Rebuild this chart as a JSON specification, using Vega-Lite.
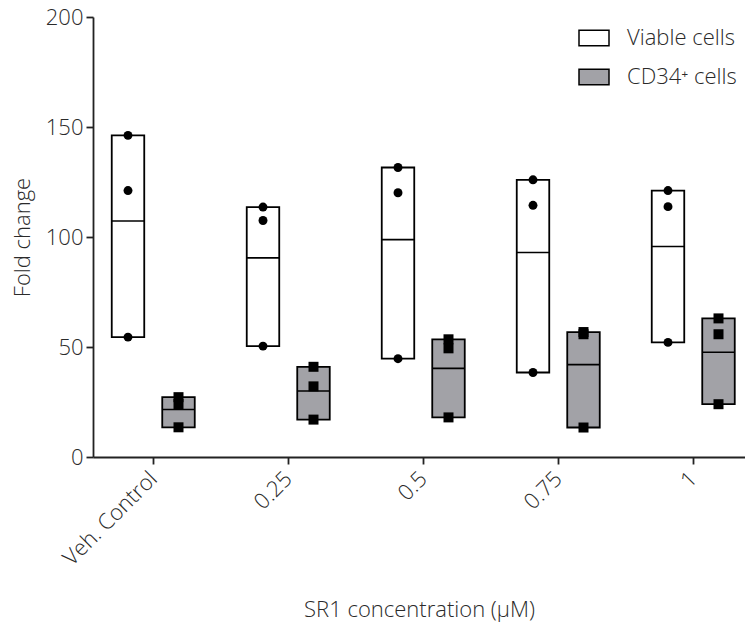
{
  "$schema": "https://vega.github.io/schema/vega-lite/v6.json",
  "autosize": "none",
  "padding": {"left": 93, "top": 17, "right": 0, "bottom": 170},
  "width": 652,
  "height": 440,
  "background": "white",
  "config": {
    "font": "Open Sans",
    "view": {"stroke": null},
    "axis": {"grid": false, "domainColor": "#222222", "domainWidth": 1.8, "tickColor": "#222222", "tickWidth": 1.8, "tickSize": 7, "labelColor": "#2a2a2a", "titleColor": "#2a2a2a", "labelFontSize": 22, "titleFontSize": 22, "titleFontWeight": 300, "labelFontWeight": 300, "labelFont": "Open Sans", "titleFont": "Open Sans"}
  },
  "data": {"values": [
    {"conc": "Veh. Control", "series": "Viable cells", "value": 146.2},
    {"conc": "Veh. Control", "series": "Viable cells", "value": 121.1},
    {"conc": "Veh. Control", "series": "Viable cells", "value": 54.5},
    {"conc": "Veh. Control", "series": "CD34⁺ cells", "value": 27.2},
    {"conc": "Veh. Control", "series": "CD34⁺ cells", "value": 24.1},
    {"conc": "Veh. Control", "series": "CD34⁺ cells", "value": 13.5},
    {"conc": "0.25", "series": "Viable cells", "value": 113.6},
    {"conc": "0.25", "series": "Viable cells", "value": 107.5},
    {"conc": "0.25", "series": "Viable cells", "value": 50.4},
    {"conc": "0.25", "series": "CD34⁺ cells", "value": 41.0},
    {"conc": "0.25", "series": "CD34⁺ cells", "value": 32.1},
    {"conc": "0.25", "series": "CD34⁺ cells", "value": 17.0},
    {"conc": "0.5", "series": "Viable cells", "value": 131.6},
    {"conc": "0.5", "series": "Viable cells", "value": 120.1},
    {"conc": "0.5", "series": "Viable cells", "value": 44.7},
    {"conc": "0.5", "series": "CD34⁺ cells", "value": 53.5},
    {"conc": "0.5", "series": "CD34⁺ cells", "value": 49.4},
    {"conc": "0.5", "series": "CD34⁺ cells", "value": 18.0},
    {"conc": "0.75", "series": "Viable cells", "value": 126.0},
    {"conc": "0.75", "series": "Viable cells", "value": 114.4},
    {"conc": "0.75", "series": "Viable cells", "value": 38.4},
    {"conc": "0.75", "series": "CD34⁺ cells", "value": 56.8},
    {"conc": "0.75", "series": "CD34⁺ cells", "value": 55.8},
    {"conc": "0.75", "series": "CD34⁺ cells", "value": 13.4},
    {"conc": "1", "series": "Viable cells", "value": 121.1},
    {"conc": "1", "series": "Viable cells", "value": 113.8},
    {"conc": "1", "series": "Viable cells", "value": 52.1},
    {"conc": "1", "series": "CD34⁺ cells", "value": 63.0},
    {"conc": "1", "series": "CD34⁺ cells", "value": 55.8},
    {"conc": "1", "series": "CD34⁺ cells", "value": 24.0}
  ]},
  "encoding": {
    "x": {"field": "conc", "type": "nominal", "sort": ["Veh. Control", "0.25", "0.5", "0.75", "1"],
      "scale": {"type": "point", "padding": 0.4148, "align": 0.5357},
      "axis": {"title": "SR1 concentration (μM)", "labelAngle": -45, "labelAlign": "right", "labelBaseline": "middle", "labelPadding": 11, "titlePadding": 30}},
    "y": {"type": "quantitative",
      "scale": {"domain": [0, 200], "nice": false, "zero": true},
      "axis": {"title": "Fold change", "values": [0, 50, 100, 150, 200], "labelPadding": 3, "titlePadding": 11}}
  },
  "layer": [
    {
      "transform": [{"filter": "datum.series == 'Viable cells'"}],
      "mark": {"type": "bar", "width": 32.5, "xOffset": -25, "stroke": "black", "strokeWidth": 1.8},
      "encoding": {
        "y": {"aggregate": "min", "field": "value", "type": "quantitative"},
        "y2": {"aggregate": "max", "field": "value"},
        "fill": {"field": "series", "type": "nominal",
          "scale": {"domain": ["Viable cells", "CD34⁺ cells"], "range": ["#ffffff", "#a2a2a7"]},
          "legend": {"title": null, "orient": "none", "legendX": 485, "legendY": 5, "padding": 0,
            "symbolType": "M-1,-0.52H1V0.52H-1Z", "symbolSize": 900, "symbolStrokeColor": "black", "symbolStrokeWidth": 1.5,
            "labelFontSize": 22, "labelFont": "Open Sans", "labelFontWeight": 300, "labelColor": "#2a2a2a", "labelOffset": 17, "rowPadding": 12, "labelLimit": 300}}
      }
    },
    {
      "transform": [{"filter": "datum.series == 'CD34⁺ cells'"}],
      "mark": {"type": "bar", "width": 32.5, "xOffset": 25.5, "stroke": "black", "strokeWidth": 1.8},
      "encoding": {
        "y": {"aggregate": "min", "field": "value", "type": "quantitative"},
        "y2": {"aggregate": "max", "field": "value"},
        "fill": {"field": "series", "type": "nominal"}
      }
    },
    {
      "transform": [{"filter": "datum.series == 'Viable cells'"}],
      "mark": {"type": "tick", "size": 32.5, "thickness": 1.6, "xOffset": -25, "color": "black"},
      "encoding": {"y": {"aggregate": "mean", "field": "value", "type": "quantitative"}}
    },
    {
      "transform": [{"filter": "datum.series == 'CD34⁺ cells'"}],
      "mark": {"type": "tick", "size": 32.5, "thickness": 1.6, "xOffset": 25.5, "color": "black"},
      "encoding": {"y": {"aggregate": "mean", "field": "value", "type": "quantitative"}}
    },
    {
      "transform": [{"filter": "datum.series == 'Viable cells'"}],
      "mark": {"type": "point", "shape": "circle", "filled": true, "size": 80, "xOffset": -25, "color": "black", "opacity": 1},
      "encoding": {"y": {"field": "value", "type": "quantitative"}}
    },
    {
      "transform": [{"filter": "datum.series == 'CD34⁺ cells'"}],
      "mark": {"type": "point", "shape": "square", "filled": true, "size": 100, "xOffset": 25.5, "color": "black", "opacity": 1},
      "encoding": {"y": {"field": "value", "type": "quantitative"}}
    }
  ]
}
